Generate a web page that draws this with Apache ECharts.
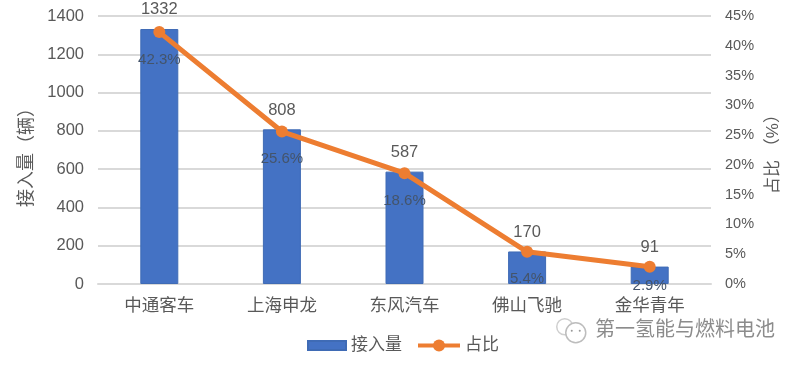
<!DOCTYPE html>
<html><head><meta charset="utf-8">
<style>html,body{margin:0;padding:0;background:#fff}#c{width:800px;height:365px}</style>
<script src="https://cdn.jsdelivr.net/npm/echarts@6/dist/echarts.min.js"></script>
</head><body><div id="c"></div>
<script>
const categories = ['中通客车','上海申龙','东风汽车','佛山飞驰','金华青年'];
const volume = [1332,808,587,170,91];
const share = [42.3,25.6,18.6,5.4,2.9];
const font = '"Liberation Sans","Noto Sans CJK SC",sans-serif';
const ink = '#595959';
const chart = echarts.init(document.getElementById('c'));
chart.setOption({
  animation:false,
  backgroundColor:'#fff',
  textStyle:{fontFamily:font,color:ink},
  grid:{left:98,right:89,top:16,bottom:81},
  legend:[
    {left:302,top:332,itemWidth:38,itemHeight:9,icon:'rect',
      textStyle:{fontSize:17,color:ink,fontFamily:font},data:['接入量']},
    {left:411,top:332,itemWidth:42,itemHeight:15,
      textStyle:{fontSize:17,color:ink,fontFamily:font},data:['占比'],
      lineStyle:{width:4}}
  ],
  xAxis:{type:'category',data:categories,
    axisTick:{show:false},
    axisLine:{lineStyle:{color:'#D9D9D9',width:2}},
    axisLabel:{fontSize:17.5,color:ink,margin:13,fontFamily:font}},
  yAxis:[
    {type:'value',min:0,max:1400,interval:200,
      name:'接入量（辆）',nameLocation:'middle',nameGap:56,nameRotate:90,
      nameTextStyle:{fontSize:18,color:ink,fontFamily:font,padding:[0,6,0,0]},
      axisLabel:{fontSize:16.5,color:ink,margin:14,fontFamily:font,formatter:v=>String(v)},
      axisLine:{show:false},axisTick:{show:false},
      splitLine:{lineStyle:{color:'#D9D9D9',width:2}}},
    {type:'value',min:0,max:45,interval:5,
      name:'占比 （%）',nameLocation:'middle',nameGap:54,nameRotate:90,
      nameTextStyle:{fontSize:17,color:ink,fontFamily:font},
      axisLabel:{fontSize:14.5,color:ink,margin:14,formatter:'{value}%',fontFamily:font},
      axisLine:{show:false},axisTick:{show:false},splitLine:{show:false}}
  ],
  series:[
    {name:'接入量',type:'bar',data:volume,barWidth:38,
      itemStyle:{color:'#4472C4',borderColor:'#3F6BB5',borderWidth:1,borderRadius:0},
      label:{show:true,position:'top',distance:11,fontSize:16.5,color:ink,fontFamily:font}},
    {name:'占比',type:'line',yAxisIndex:1,
      data:share.map((v,i)=>i===share.length-1?{value:v,label:{distance:6}}:v),
      symbol:'circle',symbolSize:12,showSymbol:true,
      itemStyle:{color:'#ED7D31'},
      lineStyle:{color:'#ED7D31',width:5},
      z:5,
      label:{show:true,position:'bottom',distance:14,fontSize:15,color:'#44546A',
        formatter:p=>p.value.toFixed(1)+'%',fontFamily:font}}
  ],
  graphic:[
    {type:'group',left:556,top:318,children:[
      {type:'circle',shape:{cx:9,cy:8,r:8},style:{fill:'#fff',stroke:'#CFCFCF',lineWidth:1.5}},
      {type:'circle',shape:{cx:20,cy:14,r:10},style:{fill:'#fff',stroke:'#BDBDBD',lineWidth:1.5}},
      {type:'circle',shape:{cx:16,cy:12,r:1},style:{fill:'#999'}},
      {type:'circle',shape:{cx:24,cy:12,r:1},style:{fill:'#999'}}
    ]},
    {type:'text',left:595,top:320,style:{text:'第一氢能与燃料电池',fontSize:20,fill:'#8C8C8C',fontFamily:font}}
  ]
});
</script></body></html>
